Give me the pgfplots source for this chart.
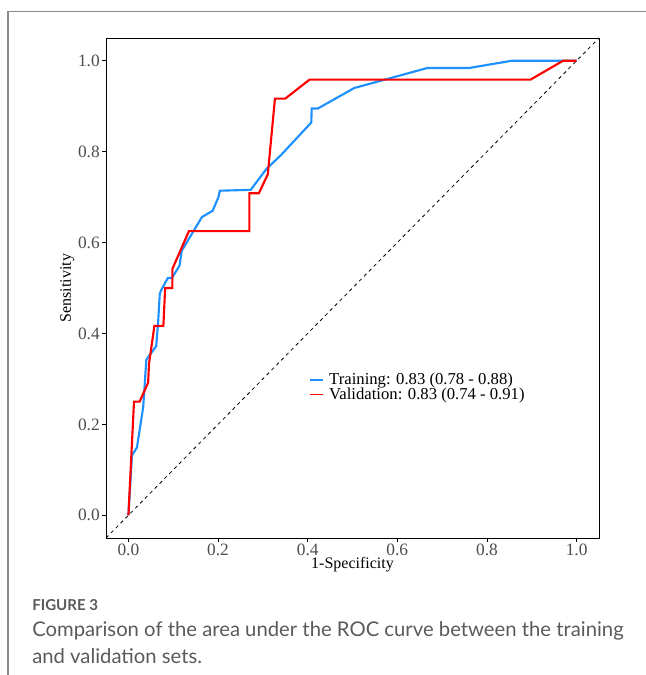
\documentclass[border=0pt]{standalone}
\usepackage{fontspec}
\setmainfont{Liberation Serif}
\newfontfamily\capfont{Lato}
\usepackage{pgfplots}
\pgfplotsset{compat=1.18}
\definecolor{trainblue}{HTML}{1E90FF}
\definecolor{valred}{HTML}{FF0000}
\definecolor{frameg}{HTML}{8A8A8A}
\definecolor{capg}{HTML}{5A5A5A}
\definecolor{tickg}{HTML}{4D4D4D}
\begin{document}
\begin{tikzpicture}[x=0.75pt,y=0.75pt]
\path[use as bounding box] (0,0) rectangle (646,675);
\draw[frameg, line width=0.9pt] (8,0) -- (8,663.3) -- (646,663.3);
\begin{axis}[
  at={(79.5pt,102.75pt)}, anchor=south west,
  scale only axis, width=369.75pt, height=375pt,
  xmin=-0.05, xmax=1.05, ymin=-0.05, ymax=1.05,
  xtick={0,0.2,0.4,0.6,0.8,1.0}, ytick={0,0.2,0.4,0.6,0.8,1.0},
  xtick pos=bottom, ytick pos=left,
  tick align=outside, major tick length=3pt,
  tick style={black, line width=0.5pt},
  axis line style={black, line width=0.6pt},
  /pgf/number format/.cd, fixed, fixed zerofill, precision=1, assume math mode=true,
  /pgfplots/.cd,
  ticklabel style={font=\fontsize{13}{15}\selectfont, text=tickg},
  xticklabel style={inner sep=1pt},
  yticklabel style={inner sep=1.5pt},
  xlabel={1-Specificity}, ylabel={Sensitivity},
  label style={font=\fontsize{12}{14}\selectfont},
  xlabel style={at={(axis description cs:0.5,0)}, anchor=center, yshift=-20pt},
  ylabel style={at={(axis description cs:0,0.5)}, anchor=center, yshift=29pt},
  legend style={at={(axis cs:0.402,0.282)}, anchor=west, draw=none, fill=none,
    inner sep=0pt, font=\fontsize{12.5}{13}\selectfont, row sep=-3pt,
    cells={anchor=west}, nodes={inner xsep=4pt}},
  legend image code/.code={\draw[#1, line width=1.3pt] (0pt,0pt) -- (10pt,0pt);},
]
\addplot[black, line width=0.6pt, dash pattern=on 2.6pt off 2.6pt, forget plot] coordinates {(-0.05,-0.05) (1.05,1.05)};
\addplot[trainblue, line width=1.6pt] coordinates {
(0,0) (0.008,0.132) (0.019,0.149) (0.033,0.238) (0.040,0.342) (0.047,0.352)
(0.062,0.372) (0.066,0.420) (0.070,0.487) (0.073,0.495) (0.088,0.522) (0.097,0.522)
(0.114,0.549) (0.119,0.582) (0.164,0.656) (0.188,0.670) (0.201,0.700) (0.204,0.714)
(0.273,0.716) (0.308,0.762) (0.341,0.793) (0.408,0.864) (0.409,0.895) (0.423,0.895)
(0.504,0.940) (0.667,0.984) (0.760,0.984) (0.856,1.0) (1.0,1.0)
};
\addlegendentry{Training: 0.83 (0.78 - 0.88)}
\addplot[valred, line width=1.6pt] coordinates {
(0,0) (0.0125,0.25) (0.025,0.25) (0.044,0.2917) (0.046,0.3333) (0.058,0.4167)
(0.078,0.4167) (0.082,0.5) (0.098,0.5) (0.098,0.5417) (0.135,0.625) (0.270,0.625)
(0.270,0.7083) (0.291,0.7083) (0.311,0.75) (0.327,0.9167) (0.350,0.9167)
(0.404,0.9583) (0.897,0.9583) (0.970,1.0) (1.0,1.0)
};
\addlegendentry{Validation: 0.83 (0.74 - 0.91)}
\end{axis}
\node[anchor=west, inner sep=0pt, text=capg, font=\capfont\bfseries\fontsize{11.3}{13}\selectfont] at (32,70) {FIGURE 3};
\node[anchor=west, inner sep=0pt, text=capg, font=\capfont\fontsize{15.2}{18}\selectfont] at (32,44) {Comparison of the area under the ROC curve between the training};
\node[anchor=west, inner sep=0pt, text=capg, font=\capfont\fontsize{15.2}{18}\selectfont] at (32,19) {and validation sets.};
\end{tikzpicture}
\end{document}
